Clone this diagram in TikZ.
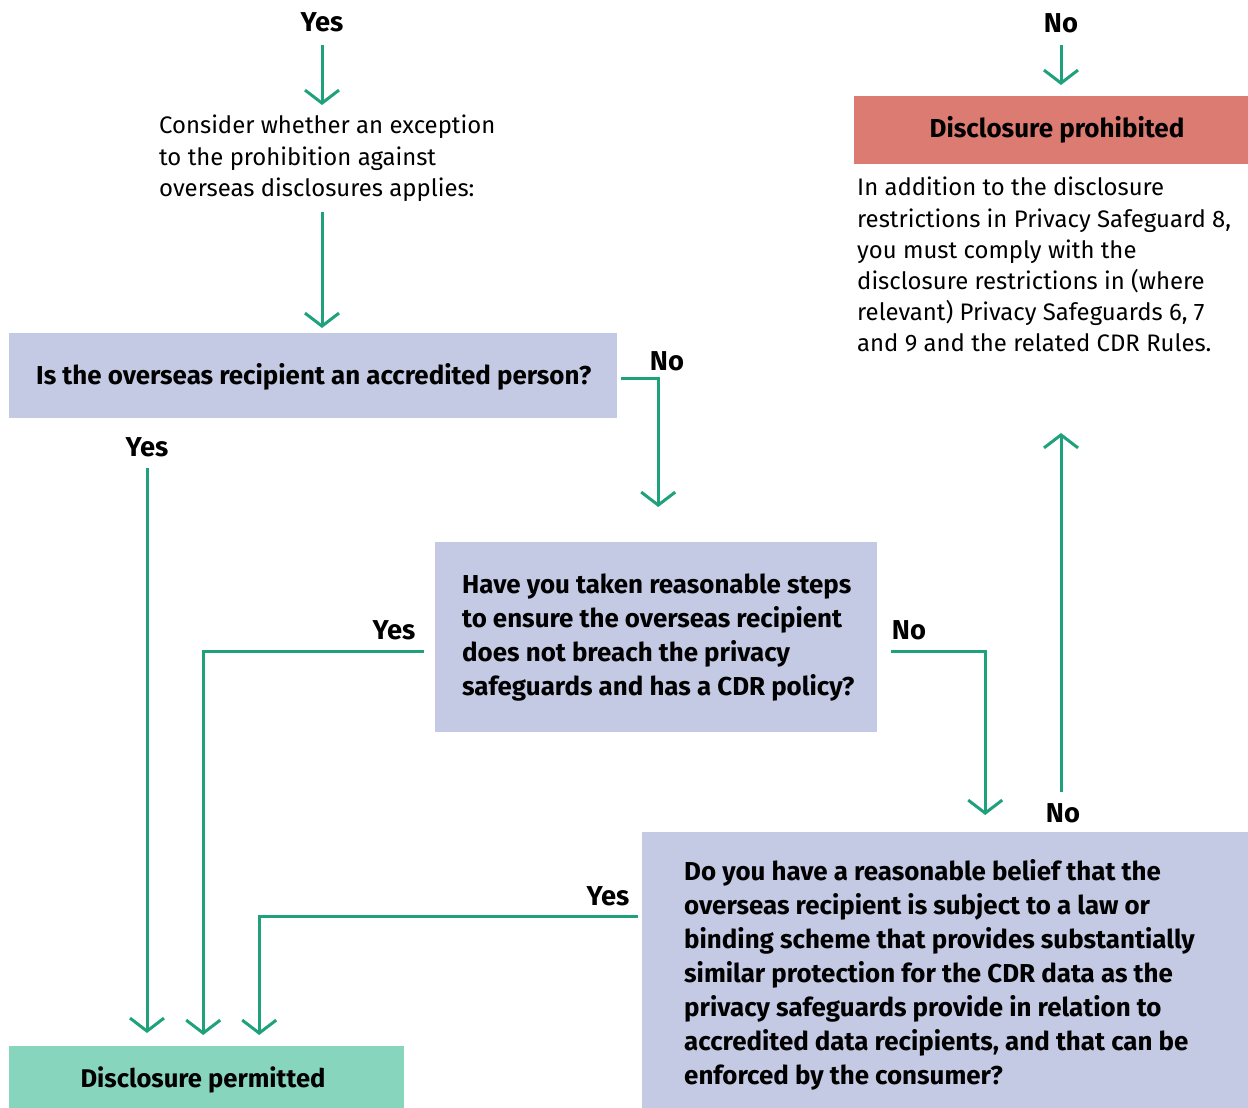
\documentclass[tikz,border=0pt]{standalone}
\usepackage{fontspec}
\setmainfont{Fira Sans}
\usetikzlibrary{arrows.meta,calc}
\definecolor{arr}{HTML}{1FA27B}
\definecolor{qblue}{HTML}{C4CAE4}
\definecolor{pred}{HTML}{DB7B71}
\definecolor{pgreen}{HTML}{88D5BD}
\tikzset{
  conn/.style={draw=arr, line width=3pt, line join=miter},
  tipped/.style={-{Straight Barb[length=13pt,width=34pt]}},
  lbl/.style={inner sep=0pt, font=\bfseries\fontsize{27.3}{30}\selectfont},
  qbox/.style={fill=qblue, draw=none, anchor=north west},
  qtext/.style={inner sep=0pt, anchor=west, align=left,
    font=\bfseries\fontsize{25.9}{34}\selectfont},
  plain/.style={inner sep=0pt, anchor=north west, align=left,
    font=\fontsize{23.9}{31.2}\selectfont},
}
\begin{document}
\begin{tikzpicture}[x=1pt,y=-1pt]
\useasboundingbox (0,0) rectangle (1248,1108);
% boxes
\node[qbox, minimum width=608pt, minimum height=85pt] (q1) at (9,333) {};
\node[qtext] (q1t) at (36,377) {Is the overseas recipient an accredited person?};
\node[qbox, minimum width=442pt, minimum height=190pt] (q2) at (435,542) {};
\node[qtext] (q2t) at (462,638)
  {Have you taken reasonable steps\\to ensure the overseas recipient\\does not breach the privacy\\safeguards and has a CDR policy?};
\node[qbox, minimum width=606pt, minimum height=278pt] (q3) at (642,832) {};
\node[qtext] (q3t) at (684,975)
  {Do you have a reasonable belief that the\\overseas recipient is subject to a law or\\binding scheme that provides substantially\\similar protection for the CDR data as the\\privacy safeguards provide in relation to\\accredited data recipients, and that can be\\enforced by the consumer?};
\node[fill=pgreen, anchor=north west, minimum width=395pt, minimum height=64pt] (permit) at (9,1046) {};
\node[font=\bfseries\fontsize{25.6}{30}\selectfont] (permitT) at (203,1080) {Disclosure permitted};
\node[fill=pred, anchor=north west, minimum width=394pt, minimum height=68pt] (prohib) at (854,96) {};
\node[font=\bfseries\fontsize{26}{30}\selectfont] (prohibT) at (1057,130) {Disclosure prohibited};
% plain texts
\node[plain] (t0) at (159,115) {Consider whether an exception\\to the prohibition against\\overseas disclosures applies:};
\node[plain] (t1) at (857,177) {In addition to the disclosure\\restrictions in Privacy Safeguard 8,\\you must comply with the\\disclosure restrictions in (where\\relevant) Privacy Safeguards 6, 7\\and 9 and the related CDR Rules.};
% labels
\node[lbl] (yes1) at (322,22) {Yes};
\node[lbl] (no1) at (1061,23) {No};
\node[lbl] (no2) at (667,361) {No};
\node[lbl] (yes2) at (147,447) {Yes};
\node[lbl] (yes3) at (394,630) {Yes};
\node[lbl] (no3) at (909,630) {No};
\node[lbl] (no4) at (1063,813) {No};
\node[lbl] (yes4) at (608,896) {Yes};
% connectors
\draw[conn,tipped,shorten <=23pt] (yes1.center) -- ($(yes1)+(0,83)$);
\draw[conn,tipped] ($(yes1)+(0,190)$) -- ($(yes1 |- q1.north)+(0,-5)$);
\draw[conn,tipped] ($(q1.east)+(4,2.5)$) -| ($(q2.north)+(2,-35)$);
\draw[conn,tipped,shorten <=21pt,shorten >=13pt] (yes2.center) -- (yes2.center |- permit.north);
\draw[conn,tipped] ($(q2.west)+(-11,14)$) -| ($(permit.north)+(-3.5,-11)$);
\draw[conn,tipped] ($(q2.east)+(14,14)$) -| ($(q3.north)+(40,-17)$);
\draw[conn,tipped] ($(no4)+(-2,-21)$) -- ($(no4)+(-2,-380)$);
\draw[conn,tipped] ($(q3.west)+(-4,-55)$) -| ($(permit.north)+(52.5,-11)$);
\draw[conn,tipped,shorten <=22pt,shorten >=11pt] (no1.center) -- (no1.center |- prohib.north);
\end{tikzpicture}
\end{document}
